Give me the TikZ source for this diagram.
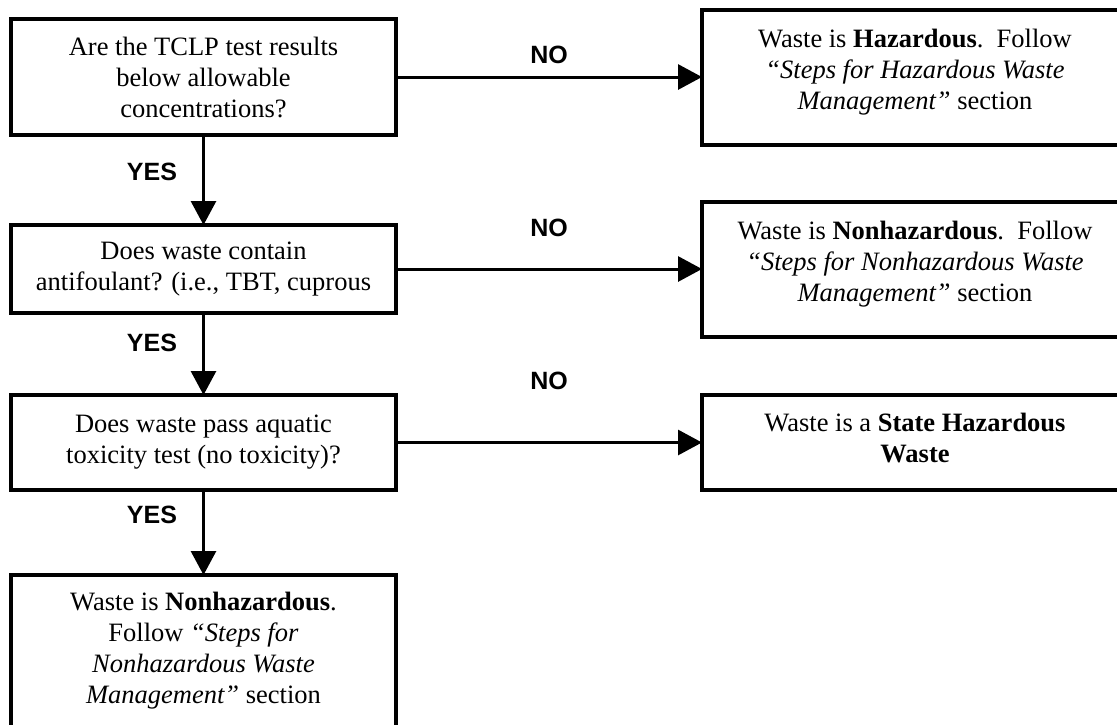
\documentclass[tikz,border=0pt]{standalone}
\usepackage{fontspec}
\setmainfont{Liberation Serif}
\newfontfamily\answerfont{Liberation Sans}
\usetikzlibrary{positioning,arrows.meta}

\tikzset{
	box/.style={draw, line width=4pt, outer sep=0pt, inner sep=0pt, align=center,
		font=\fontsize{26.5}{31}\selectfont},
	qbox/.style={box, minimum width=385pt},
	rbox/.style={box, minimum width=426pt, minimum height=135pt, text depth=15pt},
	flow/.style={line width=3pt, -{Triangle[length=24pt,width=25pt]}},
	answer/.style={inner sep=0pt, font=\answerfont\bfseries\fontsize{25}{25}\selectfont},
}

\begin{document}
\begin{tikzpicture}[x=1pt, y=-1pt]
				\useasboundingbox (0,0) rectangle (1117,724);
				
				\node[qbox, minimum height=116pt] (q1) at (203.5,77)
					{Are the TCLP test results\\ below allowable\\ concentrations?};
				\node[qbox, minimum height=88pt, below=90pt of q1] (q2)
					{Does waste contain\\ antifoulant? (i.e., TBT, cuprous};
				\node[qbox, minimum height=95pt, below=82pt of q2] (q3)
					{Does waste pass aquatic\\ toxicity test (no toxicity)?};
				\node[qbox, minimum height=152pt, below=85pt of q3] (q4)
					{Waste is \textbf{Nonhazardous}.\\ Follow \textit{``Steps for}\\
					\textit{Nonhazardous Waste}\\ \textit{Management''} section};
				
				\node[rbox, right=306pt of q1] (r1)
					{Waste is \textbf{Hazardous}.\ \ Follow\\ \textit{``Steps for Hazardous Waste}\\
					\textit{Management''} section};
				\node[rbox, right=306pt of q2] (r2)
					{Waste is \textbf{Nonhazardous}.\ \ Follow\\ \textit{``Steps for Nonhazardous Waste}\\
					\textit{Management''} section};
				\node[rbox, minimum height=95pt, text depth=9pt, right=306pt of q3] (r3)
					{Waste is a \textbf{State Hazardous}\\ \textbf{Waste}};
				
				\draw[flow] (q1) -- node[answer, left=25pt, pos=0.41] (y1) {YES} (q2);
				\draw[flow] (q2) -- node[answer, left=25pt, pos=0.37] (y2) {YES} (q3);
				\draw[flow] (q3) -- node[answer, left=25pt, pos=0.29] (y3) {YES} (q4);
				
				\draw[flow] (q1) -- node[answer, above=12pt] (n1) {NO} (r1);
				\draw[flow] (q2) -- node[answer, above=31pt] (n2) {NO} (r2);
				\draw[flow] (q3.east) -- node[answer, above=51pt] (n3) {NO} (q3.east -| r3.west);
			\end{tikzpicture}
\end{document}
